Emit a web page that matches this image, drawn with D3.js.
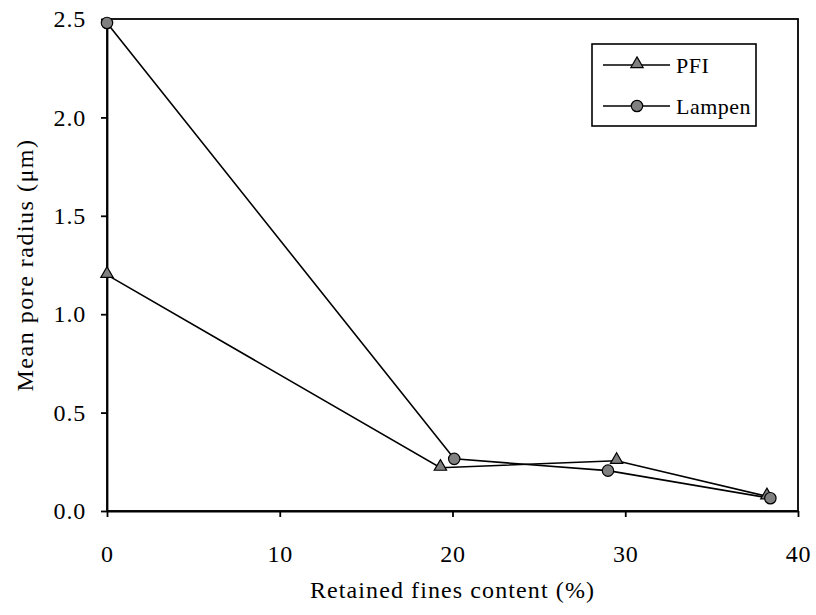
<!DOCTYPE html>
<html>
<head>
<meta charset="utf-8">
<script src="https://cdn.jsdelivr.net/npm/d3@7"></script>
<style>
  body { margin: 0; background: #fff; }
  svg text { font-family: "Liberation Serif", "Times New Roman", Times, serif; fill: #000; }
</style>
</head>
<body>
<svg id="chart" width="816" height="615"></svg>
<script>
// Mean pore radius vs. retained fines content
const pfiX = [0, 19.3, 29.5, 38.2];
const pfiY = [1.2, 0.22, 0.255, 0.075];
const lampenX = [0, 20.1, 29.0, 38.4];
const lampenY = [2.48, 0.265, 0.205, 0.065];
const xTicks = [0, 10, 20, 30, 40];
const yTicks = [0, 0.5, 1.0, 1.5, 2.0, 2.5];
const seriesNames = ["PFI", "Lampen"];

const FONT = "'Liberation Serif', 'Times New Roman', Times, serif";
const svg = d3.select("#chart");
const margin = { left: 107, right: 18, top: 19, bottom: 104 };
const W = 816, H = 615;

const x = d3.scaleLinear().domain([0, 40]).range([margin.left, W - margin.right]);
const y = d3.scaleLinear().domain([0, 2.5]).range([H - margin.bottom, margin.top]);

// plot frame
svg.append("rect")
  .attr("x", x(0)).attr("y", y(2.5))
  .attr("width", x(40) - x(0)).attr("height", y(0) - y(2.5))
  .attr("fill", "none").attr("stroke", "#000").attr("stroke-width", 1.8);

// axes
const xAxis = svg.append("g").attr("transform", `translate(0,${y(0)})`)
  .call(d3.axisBottom(x).tickValues(xTicks).tickFormat(d3.format("d")).tickSizeOuter(0).tickSizeInner(6).tickPadding(28));
const yAxis = svg.append("g").attr("transform", `translate(${x(0)},0)`)
  .call(d3.axisLeft(y).tickValues(yTicks).tickFormat(d3.format(".1f")).tickSizeOuter(0).tickSizeInner(6).tickPadding(15));
[xAxis, yAxis].forEach(a => {
  a.attr("font-family", FONT).attr("font-size", 24);
  a.select(".domain").attr("stroke", "#000").attr("stroke-width", 1.8);
  a.selectAll(".tick line").attr("stroke", "#000").attr("stroke-width", 1.8);
  a.selectAll(".tick text").style("font-family", FONT).style("font-size", "24px")
    .style("letter-spacing", "0.8px").attr("fill", "#000");
});

// axis titles
svg.append("text")
  .attr("x", (x(0) + x(40)) / 2).attr("y", 598)
  .attr("text-anchor", "middle").style("font-size", "24px").style("font-family", FONT)
  .style("letter-spacing", "1.1px")
  .text("Retained fines content (%)");
svg.append("text")
  .attr("transform", `translate(33,${(y(0) + y(2.5)) / 2}) rotate(-90)`)
  .attr("text-anchor", "middle").style("font-size", "24px").style("font-family", FONT)
  .style("letter-spacing", "1.5px")
  .text("Mean pore radius (\u03bcm)");

const line = d3.line().x(d => x(d[0])).y(d => y(d[1]));
const tri = d3.symbol().type(d3.symbolTriangle).size(66);

const pfi = pfiX.map((v, i) => [v, pfiY[i]]);
const lampen = lampenX.map((v, i) => [v, lampenY[i]]);

svg.append("path").datum(pfi).attr("d", line)
  .attr("fill", "none").attr("stroke", "#000").attr("stroke-width", 1.6);
svg.append("path").datum(lampen).attr("d", line)
  .attr("fill", "none").attr("stroke", "#000").attr("stroke-width", 1.6);

svg.selectAll(".pfi").data(pfi).enter().append("path")
  .attr("d", tri)
  .attr("transform", d => `translate(${x(d[0])},${y(d[1]) - 1})`)
  .attr("fill", "#808080").attr("stroke", "#000").attr("stroke-width", 1.2);
svg.selectAll(".lampen").data(lampen).enter().append("circle")
  .attr("cx", d => x(d[0])).attr("cy", d => y(d[1])).attr("r", 5.7)
  .attr("fill", "#808080").attr("stroke", "#000").attr("stroke-width", 1.2);

// legend
const lg = svg.append("g");
lg.append("rect").attr("x", 592).attr("y", 44).attr("width", 164).attr("height", 82)
  .attr("fill", "#fff").attr("stroke", "#000").attr("stroke-width", 1.6);
seriesNames.forEach((name, i) => {
  const ly = 65 + i * 41;
  lg.append("line").attr("x1", 603).attr("x2", 670).attr("y1", ly).attr("y2", ly)
    .attr("stroke", "#000").attr("stroke-width", 1.6);
  if (i === 0) {
    lg.append("path").attr("d", tri).attr("transform", `translate(637,${ly - 1})`)
      .attr("fill", "#808080").attr("stroke", "#000").attr("stroke-width", 1.2);
  } else {
    lg.append("circle").attr("cx", 637).attr("cy", ly).attr("r", 5.7)
      .attr("fill", "#808080").attr("stroke", "#000").attr("stroke-width", 1.2);
  }
  lg.append("text").attr("x", 676).attr("y", ly + 8).style("font-size", "22px")
    .style("letter-spacing", "0.5px").style("font-family", FONT).text(name);
});
</script>
</body>
</html>
